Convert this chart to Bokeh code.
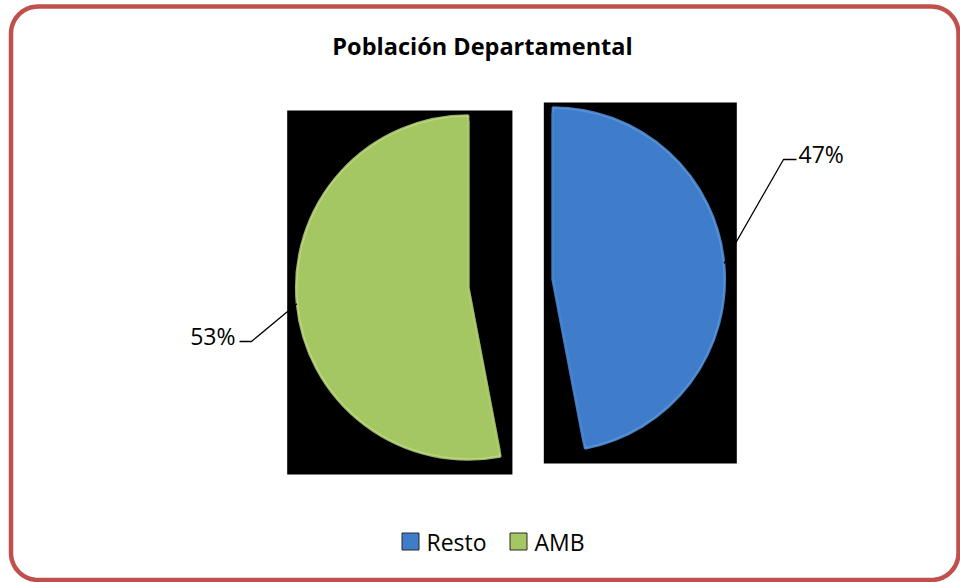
import math
from bokeh.plotting import figure
from bokeh.models import Range1d
from bokeh.core.properties import value
from bokeh.embed import file_html
from bokeh.resources import INLINE

# ---------------- data ----------------
title_text = "Población Departamental"
categories = ["Resto", "AMB"]
values = [47, 53]
colors = ["#3F7DCB", "#A5C763"]
edge_colors = ["#5E9BE6", "#C3DE86"]

# ---------------- layout ----------------
W, H = 960, 582
PAGE_H = 582

def X(sx):                   # screen x -> data x
    return sx

def Y(sy):                   # screen y -> data y
    return PAGE_H - sy

FONT = "Open Sans"
CX, CY = 510, 283            # pie centre (screen)
R = 172                      # pie radius
EXPLODE = 42.5

p = figure(width=W, height=H, output_backend="svg", toolbar_location=None,
           x_range=Range1d(0, W), y_range=Range1d(0, H),
           min_border=0, tools="")
p.axis.visible = False
p.grid.visible = False
p.outline_line_color = None
p.background_fill_color = "white"
p.border_fill_color = "white"

# rounded frame
def rounded_rect(x0, y0, x1, y1, r, n=14):
    xs, ys = [], []
    corners = [(x1 - r, y0 + r, -90, 0), (x1 - r, y1 - r, 0, 90),
               (x0 + r, y1 - r, 90, 180), (x0 + r, y0 + r, 180, 270)]
    for cx, cy, a0, a1 in corners:
        for k in range(n + 1):
            a = math.radians(a0 + (a1 - a0) * k / n)
            xs.append(X(cx + r * math.cos(a)))
            ys.append(Y(cy + r * math.sin(a)))
    xs.append(xs[0]); ys.append(ys[0])
    return xs, ys

fx, fy = rounded_rect(10.5, 6, 958, 579.5, 27)
p.line(fx, fy, line_color="#C0504D", line_width=4.5)

# title
p.text(x=[X(482)], y=[Y(45)], text=[title_text], text_font=value(FONT),
       text_font_style="bold", text_font_size="23.5px", text_align="center",
       text_baseline="middle", text_color="black")

# slices
total = float(sum(values))
cum = 0.0
for i, (cat, v) in enumerate(zip(categories, values)):
    a0 = math.pi / 2 - 2 * math.pi * cum / total
    cum += v
    a1 = math.pi / 2 - 2 * math.pi * cum / total
    mid = (a0 + a1) / 2
    cx = X(CX) + EXPLODE * math.cos(mid)
    cy = Y(CY) + EXPLODE * math.sin(mid)
    # bounding box of the slice (for the black backdrop)
    pts = [(cx, cy)]
    nstep = 200
    for k in range(nstep + 1):
        a = a1 + (a0 - a1) * k / nstep
        pts.append((cx + R * math.cos(a), cy + R * math.sin(a)))
    xs_ = [q[0] for q in pts]; ys_ = [q[1] for q in pts]
    bx0, bx1 = min(xs_) - 9, max(xs_) + 12
    by0, by1 = min(ys_) - 15, max(ys_) + 5
    p.quad(left=[bx0], right=[bx1], bottom=[by0], top=[by1],
           fill_color="black", line_color=None)
    p.wedge(x=[cx], y=[cy], radius=R, start_angle=a1, end_angle=a0,
            fill_color=colors[i], line_color=edge_colors[i], line_width=2.5,
            line_alpha=0.8)
    p.wedge(x=[cx], y=[cy], radius=R - 6, start_angle=a1, end_angle=a0,
            fill_color=None, line_color=colors[i], line_width=3, line_alpha=0.6)

# data labels with leader lines
cum = 0.0
label_pos = {"Resto": (783, 159, 796, 798, "left"),
             "AMB": (251, 341, 239, 235, "right")}
for i, (cat, v) in enumerate(zip(categories, values)):
    a0 = math.pi / 2 - 2 * math.pi * cum / total
    cum += v
    a1 = math.pi / 2 - 2 * math.pi * cum / total
    mid = (a0 + a1) / 2
    cx = X(CX) + EXPLODE * math.cos(mid)
    cy = Y(CY) + EXPLODE * math.sin(mid)
    ax, ay = cx + R * math.cos(mid), cy + R * math.sin(mid)
    ex, ey, hx, tx, al = label_pos[cat]
    p.line([ax, X(ex), X(hx)], [ay, Y(ey), Y(ey)], line_color="black", line_width=1.3)
    pct = f"{round(100 * v / total):d}%"
    p.text(x=[X(tx)], y=[Y(ey - 6)], text=[pct], text_font=value(FONT),
           text_font_size="23px", text_align=al, text_baseline="middle",
           text_color="black")

# legend
legend_x = [410, 518]
for i, cat in enumerate(categories):
    sx = legend_x[i]
    p.quad(left=[X(sx - 8.5)], right=[X(sx + 8.5)], bottom=[Y(549.5)], top=[Y(532.5)],
           fill_color=colors[i], line_color="#2B2B2B", line_width=1)
    p.text(x=[X(sx + 16)], y=[Y(541)], text=[cat], text_font=value(FONT),
           text_font_size="23px", text_align="left", text_baseline="middle",
           text_color="black")

open("out.html", "w").write(file_html(p, INLINE))
